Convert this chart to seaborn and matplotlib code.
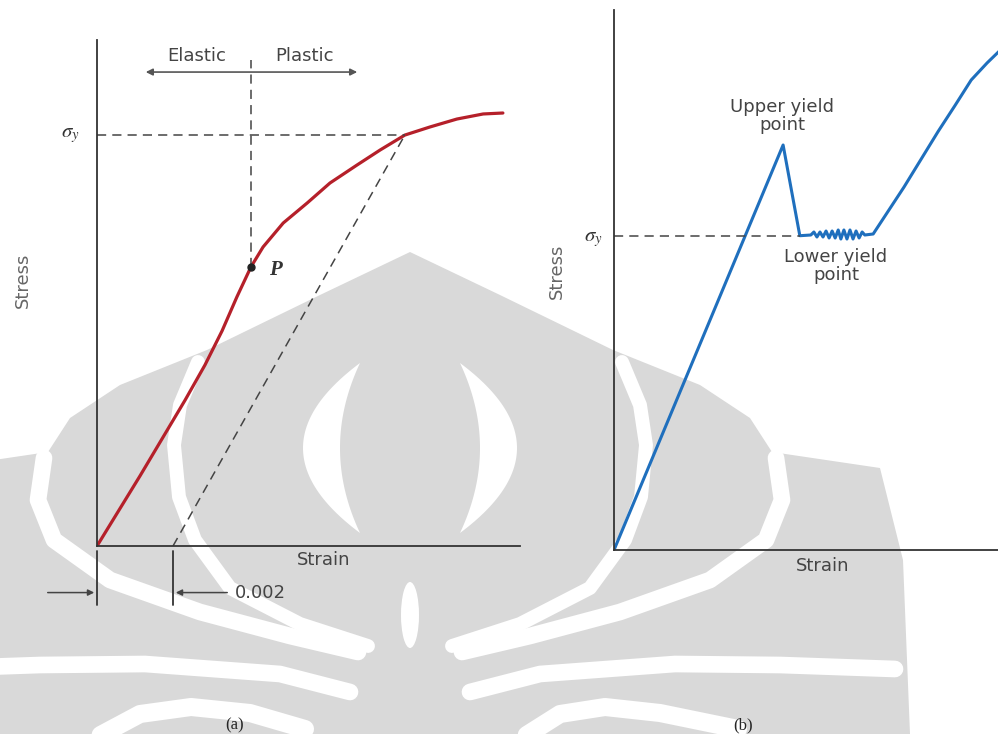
import numpy as np
import pandas as pd
import matplotlib.pyplot as plt
import seaborn as sns
from matplotlib import font_manager
from matplotlib.patches import Polygon, Ellipse

# ---- data (a): ductile metal, no sharp yield point ----
strain_a = [0, 0.00113, 0.00232, 0.00284, 0.00329, 0.00368, 0.00405, 0.00437,
            0.0049, 0.00553, 0.00613, 0.00684, 0.00745, 0.0081, 0.00876,
            0.00947, 0.01016, 0.01068]
stress_a = [0, 51.1, 106.6, 132.1, 157.0, 181.8, 203.7, 218.3, 235.8, 250.4,
            265.0, 278.1, 289.1, 300.0, 305.9, 311.7, 315.4, 316.1]
sigma_y_a = 300
offset_strain = 0.002
offset_end = 0.0081          # strain where the 0.002 offset line meets the curve
p_strain, p_stress = 0.00405, 203.7   # proportional limit P

# ---- data (b): yield point phenomenon ----
strain_b = [0, 0.00445, 0.00489, 0.00518, 0.00526, 0.00534, 0.00542, 0.0055,
            0.00558, 0.00566, 0.00574, 0.00582, 0.0059, 0.00597, 0.00605,
            0.00613, 0.00621, 0.00629, 0.00637, 0.00645, 0.00653, 0.0066,
            0.00682, 0.00763, 0.00853, 0.00897, 0.0094, 0.00982, 0.01013]
stress_b = [0, 283.5, 220, 220.5, 222.6, 219.1, 222.6, 219.1, 223.3, 218.4,
            223.3, 218.4, 224, 217.7, 224, 217.7, 224, 217.7, 223.3, 218.4,
            222.6, 220.5, 221.2, 254, 293, 311, 329, 341, 349]
sigma_y_b = 220
upper_yield = (0.00442, 304)
lower_yield = (0.00584, 199)

sns.set_style('white')
plt.rcParams['font.family'] = ['DejaVu Sans']
plt.rcParams['mathtext.fontset'] = 'stix'

names = {f.name for f in font_manager.fontManager.ttflist}
narrow = 'Liberation Sans Narrow' if 'Liberation Sans Narrow' in names else 'DejaVu Sans'

fig = plt.figure(figsize=(9.98, 7.34), dpi=100)
W, H = 998, 734

# ---- grey logo watermark behind the charts (pixel coordinates) ----
bg = fig.add_axes([0, 0, 1, 1], zorder=0)
bg.set_xlim(0, W)
bg.set_ylim(H, 0)
bg.axis('off')
wm = '#d9d9d9'
cx = 410
half = [(410, 252), (500, 295), (613, 350), (700, 385), (750, 418),
        (772, 452), (880, 468), (903, 560), (910, 734)]
rx = [p[0] for p in half]
ry = [p[1] for p in half]
lx = [2 * cx - x for x in rx[::-1]]
bg.add_patch(Polygon(np.column_stack([rx + lx, ry + ry[::-1]]), closed=True,
                     fc=wm, ec='none'))


def band(pts, lw, mirror=True):
    xs = np.array([p[0] for p in pts], float)
    ys = np.array([p[1] for p in pts], float)
    for xx in ((xs, 2 * cx - xs) if mirror else (xs,)):
        bg.plot(xx, ys, color='white', lw=lw, solid_capstyle='round',
                solid_joinstyle='round')


# gap between the dome and the outer wings
band([(776, 458), (782, 500), (766, 540), (710, 580), (620, 612),
      (530, 636), (462, 652)], 12)
# inner ring
band([(622, 362), (640, 405), (646, 445), (641, 497), (625, 540),
      (590, 588), (520, 624), (452, 646)], 10)
# lower sweeping bands
band([(470, 692), (540, 674), (675, 664), (780, 665), (895, 669)], 12)
band([(522, 738), (560, 714), (605, 707), (660, 713), (738, 729)], 13, False)
band([(95, 738), (140, 714), (191, 707), (250, 713), (305, 729)], 13, False)

yy = np.linspace(363, 533, 60)
f = 1 - ((yy - 448) / 85) ** 2
for s in (1, -1):
    xo = cx + s * (50 + 57 * f)
    xi = cx + s * (50 + 20 * f)
    bg.add_patch(Polygon(np.column_stack([np.r_[xo, xi[::-1]],
                                          np.r_[yy, yy[::-1]]]),
                         closed=True, fc='white', ec='none'))
bg.add_patch(Ellipse((410, 615), 18, 66, fc='white', ec='none'))

line_kw = dict(color='#333333', lw=1.3)
dash_kw = dict(color='#444444', lw=1.1, dashes=(6, 4))
txt_kw = dict(color='#444444', fontsize=13)

# ---------------- panel (a) ----------------
ax1 = fig.add_axes([97 / W, 1 - 546 / H, 423 / W, 506 / H], zorder=1)
ax1.patch.set_alpha(0)
df_a = pd.DataFrame({'strain': strain_a, 'stress': stress_a})
sns.lineplot(data=df_a, x='strain', y='stress', ax=ax1, color='#b5202a',
             lw=2.3, sort=False, estimator=None)
ax1.set_xlim(0, 0.01113)
ax1.set_ylim(0, 369.4)
ax1.plot([0, offset_end], [sigma_y_a, sigma_y_a], **dash_kw)
ax1.plot([offset_strain, offset_end], [0, sigma_y_a], **dash_kw)
ax1.plot([p_strain, p_strain], [p_stress, 355], clip_on=False, **dash_kw)
ax1.plot([p_strain], [p_stress], 'o', color='#222222', ms=5)
ax1.text(p_strain + 0.00048, p_stress - 2, 'P', fontsize=15, family='Liberation Serif',
         style='italic', weight='bold', color='#333333', va='center')
ax1.annotate('', xy=(0.00121, 346), xytext=(0.00692, 346),
             arrowprops=dict(arrowstyle='<|-|>', color='#555555', lw=1.2,
                             mutation_scale=10), annotation_clip=False)
ax1.text(0.00263, 358, 'Elastic', ha='center', va='center', **txt_kw)
ax1.text(0.00545, 358, 'Plastic', ha='center', va='center', **txt_kw)
ax1.text(-0.00071, sigma_y_a, r'$\sigma_y$', ha='center', va='center',
         fontsize=15, color='#333333')
ax1.text(-0.00195, 194, 'Stress', rotation=90, ha='center', va='center',
         family=narrow, fontsize=13, color='#666666')
ax1.text(0.00595, -10, 'Strain', ha='center', va='center', **txt_kw)
for xv in (0, offset_strain):
    ax1.plot([xv, xv], [-4, -43], clip_on=False, **line_kw)
ax1.annotate('', xy=(0, -34), xytext=(-0.00137, -34),
             arrowprops=dict(arrowstyle='-|>', color='#444444', lw=1.1,
                             mutation_scale=9), annotation_clip=False)
ax1.annotate('', xy=(offset_strain, -34), xytext=(0.0035, -34),
             arrowprops=dict(arrowstyle='-|>', color='#444444', lw=1.1,
                             mutation_scale=9), annotation_clip=False)
ax1.text(0.00363, -34, '0.002', ha='left', va='center', **txt_kw)

# ---------------- panel (b) ----------------
ax2 = fig.add_axes([614 / W, 1 - 550 / H, 384 / W, 540 / H], zorder=1)
ax2.patch.set_alpha(0)
df_b = pd.DataFrame({'strain': strain_b, 'stress': stress_b})
sns.lineplot(data=df_b, x='strain', y='stress', ax=ax2, color='#1f6fbd',
             lw=2.2, sort=False, estimator=None)
ax2.set_xlim(0, 0.010105)
ax2.set_ylim(0, 378)
ax2.plot([0, 0.0049], [sigma_y_b, sigma_y_b], **dash_kw)
ax2.text(-0.00055, sigma_y_b - 2, r'$\sigma_y$', ha='center', va='center',
         fontsize=15, color='#333333')
ax2.text(upper_yield[0], upper_yield[1], 'Upper yield\npoint', ha='center',
         va='center', linespacing=1.0, **txt_kw)
ax2.text(lower_yield[0], lower_yield[1], 'Lower yield\npoint', ha='center',
         va='center', linespacing=1.0, **txt_kw)
ax2.text(-0.0015, 195, 'Stress', rotation=90, ha='center', va='center',
         family=narrow, fontsize=13, color='#666666')
ax2.text(0.0055, -11, 'Strain', ha='center', va='center', **txt_kw)

for ax in (ax1, ax2):
    ax.set_xticks([])
    ax.set_yticks([])
    ax.set_xlabel('')
    ax.set_ylabel('')
    sns.despine(ax=ax, top=True, right=True)
    for sp in ('left', 'bottom'):
        ax.spines[sp].set_color('#333333')
        ax.spines[sp].set_linewidth(1.3)

fig.text(235 / W, 1 - 725 / H, '(a)', ha='center', va='center',
         family='Liberation Serif', fontsize=12)
fig.text(743 / W, 1 - 725 / H, '(b)', ha='center', va='center',
         family='Liberation Serif', fontsize=12)

plt.savefig('out.png', dpi=100)
